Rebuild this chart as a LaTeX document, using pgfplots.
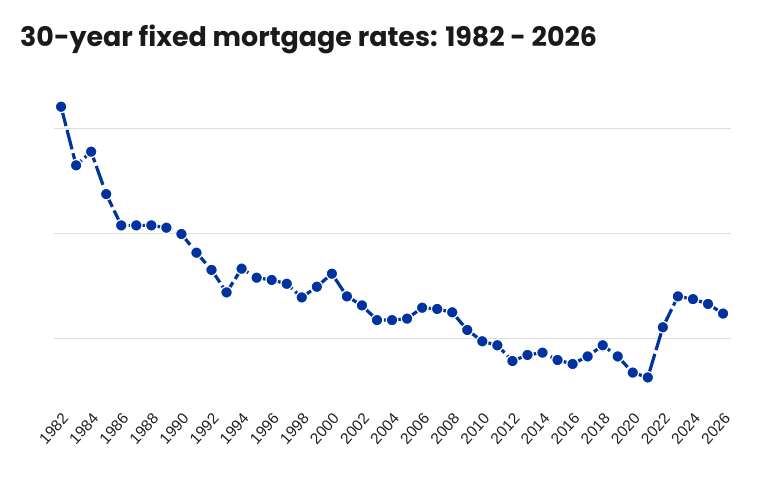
\documentclass[border=0pt]{standalone}
\usepackage{fontspec}
\setmainfont{Liberation Sans}
\newfontfamily\titlefont{Poppins}
\usepackage{pgfplots}
\pgfplotsset{compat=1.18}

\definecolor{rateblue}{RGB}{0,51,160}
\definecolor{gridgray}{RGB}{222,222,222}
\definecolor{titleink}{RGB}{26,26,26}

\begin{document}
\begin{tikzpicture}
\useasboundingbox (0,0) rectangle (767bp,479bp);
\node[anchor=west, inner sep=0pt, text=titleink] at (20bp,440bp)
  {\titlefont\bfseries\fontsize{26.9bp}{31bp}\selectfont 30-year fixed mortgage rates: 1982 - 2026};
\begin{axis}[
    at={(54bp,87.5bp)}, anchor=south west,
    scale only axis,
    width=677bp, height=304.5bp,
    xmin=1981.53, xmax=2026.53,
    ymin=2.5, ymax=17,
    axis line style={draw=none},
    tick style={draw=none},
    xtick={1982,1984,...,2026},
    ytick={5,10,15},
    yticklabels={},
    ymajorgrids,
    grid style={gridgray, line width=1bp},
    /pgf/number format/1000 sep={},
    /pgf/number format/assume math mode=true,
    xticklabel style={yshift=-19bp, rotate=48, anchor=north east, text=black!88, inner sep=1bp},
    xticklabel={\fontsize{15.5bp}{17bp}\selectfont\pgfmathprintnumber{\tick}},
    clip=false,
  ]
\addplot[rateblue, line width=3.2bp, dash pattern=on 20bp off 4bp,
         mark=*, mark size=5.8bp,
         mark options={solid, fill=rateblue, draw=white, line width=1.2bp}]
  table {
1982 16.06
1983 13.27
1984 13.92
1985 11.90
1986 10.41
1987 10.41
1988 10.41
1989 10.30
1990 10.00
1991 9.11
1992 8.29
1993 7.22
1994 8.35
1995 7.92
1996 7.81
1997 7.63
1998 6.98
1999 7.49
2000 8.11
2001 7.03
2002 6.60
2003 5.90
2004 5.90
2005 5.97
2006 6.49
2007 6.43
2008 6.27
2009 5.43
2010 4.89
2011 4.70
2012 3.95
2013 4.24
2014 4.35
2015 4.00
2016 3.81
2017 4.17
2018 4.70
2019 4.17
2020 3.40
2021 3.17
2022 5.56
2023 7.03
2024 6.90
2025 6.67
2026 6.21
  };
\end{axis}
\end{tikzpicture}
\end{document}
